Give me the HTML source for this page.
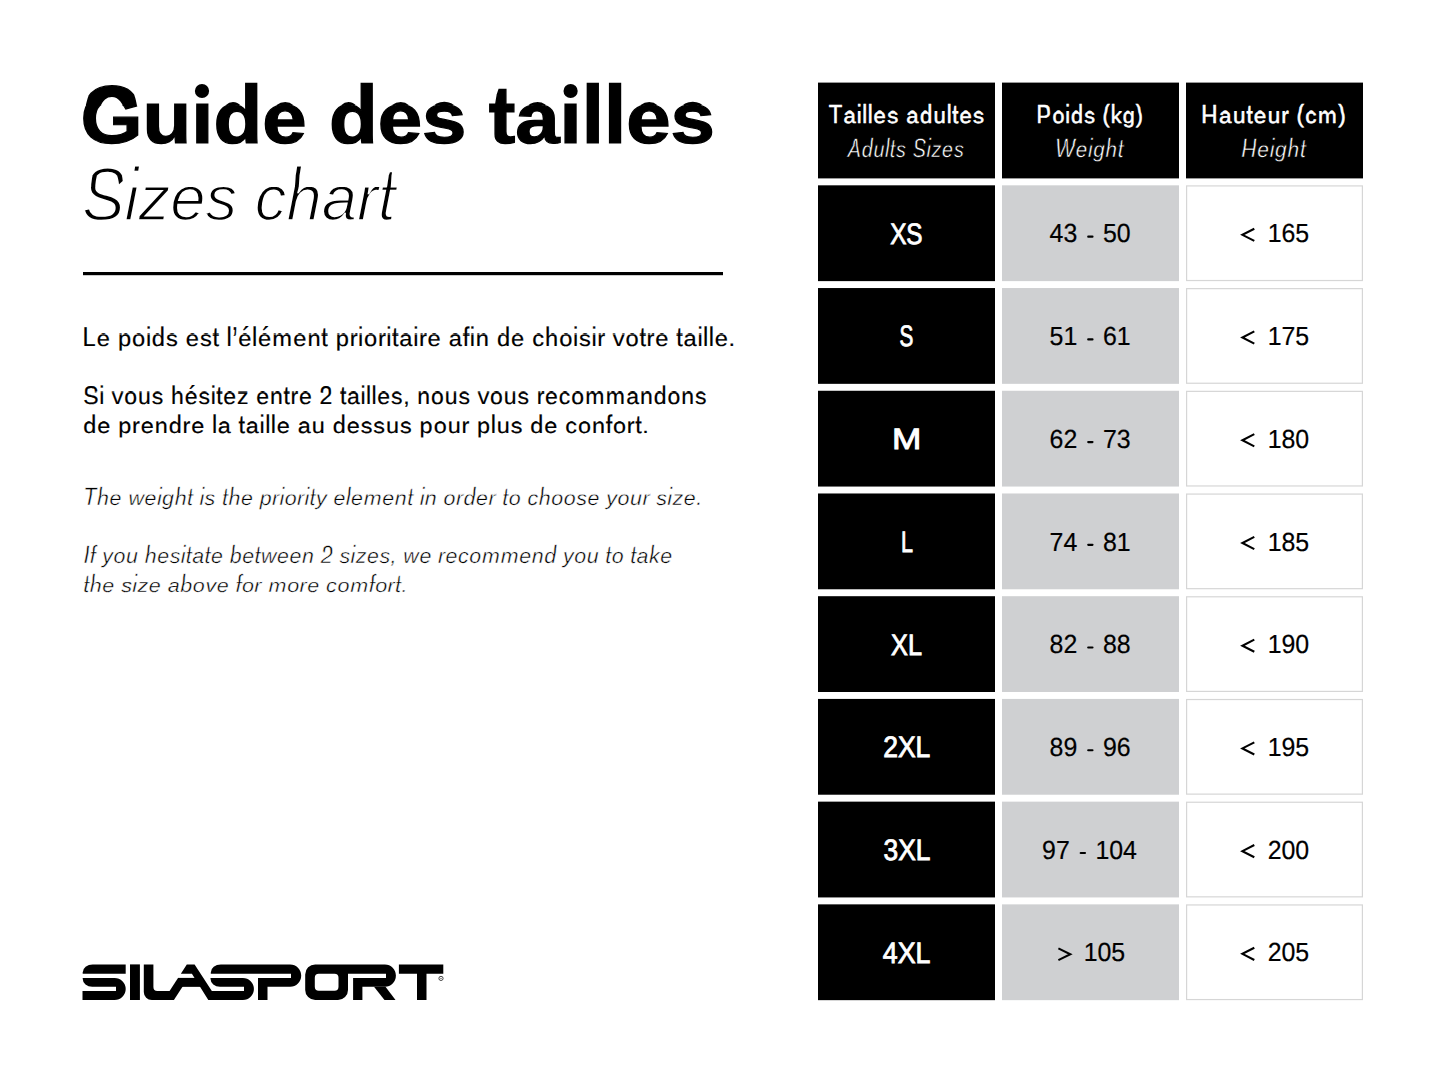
<!DOCTYPE html>
<html><head><meta charset="utf-8"><title>Guide des tailles</title>
<style>
html,body{margin:0;padding:0;background:#fff;width:1445px;height:1084px;overflow:hidden}
svg{position:absolute;left:0;top:0;display:block}
text{font-family:"Liberation Sans",sans-serif;white-space:pre;text-rendering:geometricPrecision}
</style></head><body>
<svg width="1445" height="1084" viewBox="0 0 1445 1084">
<defs><clipPath id="ca_title"><rect x="0" y="105.00" width="1445" height="83.6"/></clipPath>
<clipPath id="cm_title"><rect x="0" y="95.00" width="1445" height="10.00"/></clipPath>
<clipPath id="ct_title"><rect x="0" y="11.40" width="1445" height="83.60"/></clipPath>
<clipPath id="ca_sizes"><rect x="0" y="187.00" width="1445" height="75.3"/></clipPath>
<clipPath id="cm_sizes"><rect x="0" y="176.00" width="1445" height="11.00"/></clipPath>
<clipPath id="ct_sizes"><rect x="0" y="100.70" width="1445" height="75.30"/></clipPath>
<clipPath id="ca_p1"><rect x="0" y="334.00" width="1445" height="25.7"/></clipPath>
<clipPath id="cm_p1"><rect x="0" y="330.00" width="1445" height="4.00"/></clipPath>
<clipPath id="ct_p1"><rect x="0" y="304.30" width="1445" height="25.70"/></clipPath>
<clipPath id="ca_p2a"><rect x="0" y="392.00" width="1445" height="25.7"/></clipPath>
<clipPath id="cm_p2a"><rect x="0" y="389.00" width="1445" height="3.00"/></clipPath>
<clipPath id="ct_p2a"><rect x="0" y="363.30" width="1445" height="25.70"/></clipPath>
<clipPath id="ca_p2b"><rect x="0" y="422.00" width="1445" height="25.7"/></clipPath>
<clipPath id="cm_p2b"><rect x="0" y="418.00" width="1445" height="4.00"/></clipPath>
<clipPath id="ct_p2b"><rect x="0" y="392.30" width="1445" height="25.70"/></clipPath>
<clipPath id="ca_i1"><rect x="0" y="494.00" width="1445" height="25.1"/></clipPath>
<clipPath id="cm_i1"><rect x="0" y="490.00" width="1445" height="4.00"/></clipPath>
<clipPath id="ct_i1"><rect x="0" y="464.90" width="1445" height="25.10"/></clipPath>
<clipPath id="ca_i2"><rect x="0" y="552.00" width="1445" height="25.1"/></clipPath>
<clipPath id="cm_i2"><rect x="0" y="548.00" width="1445" height="4.00"/></clipPath>
<clipPath id="ct_i2"><rect x="0" y="522.90" width="1445" height="25.10"/></clipPath>
<clipPath id="ca_i3"><rect x="0" y="582.00" width="1445" height="25.1"/></clipPath>
<clipPath id="cm_i3"><rect x="0" y="577.00" width="1445" height="5.00"/></clipPath>
<clipPath id="ct_i3"><rect x="0" y="551.90" width="1445" height="25.10"/></clipPath>
<clipPath id="ca_h1a"><rect x="0" y="112.00" width="1445" height="26.2"/></clipPath>
<clipPath id="cm_h1a"><rect x="0" y="108.00" width="1445" height="4.00"/></clipPath>
<clipPath id="ct_h1a"><rect x="0" y="81.80" width="1445" height="26.20"/></clipPath>
<clipPath id="ca_h1b"><rect x="0" y="145.00" width="1445" height="26.5"/></clipPath>
<clipPath id="cm_h1b"><rect x="0" y="141.00" width="1445" height="4.00"/></clipPath>
<clipPath id="ct_h1b"><rect x="0" y="114.50" width="1445" height="26.50"/></clipPath>
<clipPath id="ca_h2a"><rect x="0" y="112.00" width="1445" height="26.2"/></clipPath>
<clipPath id="cm_h2a"><rect x="0" y="108.00" width="1445" height="4.00"/></clipPath>
<clipPath id="ct_h2a"><rect x="0" y="81.80" width="1445" height="26.20"/></clipPath>
<clipPath id="ca_h2b"><rect x="0" y="145.00" width="1445" height="26.5"/></clipPath>
<clipPath id="cm_h2b"><rect x="0" y="141.00" width="1445" height="4.00"/></clipPath>
<clipPath id="ct_h2b"><rect x="0" y="114.50" width="1445" height="26.50"/></clipPath>
<clipPath id="ca_h3a"><rect x="0" y="112.00" width="1445" height="26.2"/></clipPath>
<clipPath id="cm_h3a"><rect x="0" y="108.00" width="1445" height="4.00"/></clipPath>
<clipPath id="ct_h3a"><rect x="0" y="81.80" width="1445" height="26.20"/></clipPath>
<clipPath id="ca_h3b"><rect x="0" y="145.00" width="1445" height="26.5"/></clipPath>
<clipPath id="cm_h3b"><rect x="0" y="141.00" width="1445" height="4.00"/></clipPath>
<clipPath id="ct_h3b"><rect x="0" y="114.50" width="1445" height="26.50"/></clipPath></defs>
<rect x="0" y="0" width="1445" height="1084" fill="#fff"/>
<rect x="83" y="272" width="640" height="3.2" fill="#000"/>
<rect x="818" y="82.60" width="177" height="95.8" fill="#000"/>
<rect x="1002" y="82.60" width="177" height="95.8" fill="#000"/>
<rect x="1186" y="82.60" width="177" height="95.8" fill="#000"/>
<rect x="818" y="185.32" width="177" height="95.8" fill="#000"/>
<rect x="1002" y="185.32" width="177" height="95.8" fill="#cfd0d2"/>
<rect x="1186.6" y="185.92" width="175.8" height="94.6" fill="#fff" stroke="#d6d6d6" stroke-width="1.2"/>
<rect x="818" y="288.04" width="177" height="95.8" fill="#000"/>
<rect x="1002" y="288.04" width="177" height="95.8" fill="#cfd0d2"/>
<rect x="1186.6" y="288.64" width="175.8" height="94.6" fill="#fff" stroke="#d6d6d6" stroke-width="1.2"/>
<rect x="818" y="390.76" width="177" height="95.8" fill="#000"/>
<rect x="1002" y="390.76" width="177" height="95.8" fill="#cfd0d2"/>
<rect x="1186.6" y="391.36" width="175.8" height="94.6" fill="#fff" stroke="#d6d6d6" stroke-width="1.2"/>
<rect x="818" y="493.48" width="177" height="95.8" fill="#000"/>
<rect x="1002" y="493.48" width="177" height="95.8" fill="#cfd0d2"/>
<rect x="1186.6" y="494.08" width="175.8" height="94.6" fill="#fff" stroke="#d6d6d6" stroke-width="1.2"/>
<rect x="818" y="596.20" width="177" height="95.8" fill="#000"/>
<rect x="1002" y="596.20" width="177" height="95.8" fill="#cfd0d2"/>
<rect x="1186.6" y="596.80" width="175.8" height="94.6" fill="#fff" stroke="#d6d6d6" stroke-width="1.2"/>
<rect x="818" y="698.92" width="177" height="95.8" fill="#000"/>
<rect x="1002" y="698.92" width="177" height="95.8" fill="#cfd0d2"/>
<rect x="1186.6" y="699.52" width="175.8" height="94.6" fill="#fff" stroke="#d6d6d6" stroke-width="1.2"/>
<rect x="818" y="801.64" width="177" height="95.8" fill="#000"/>
<rect x="1002" y="801.64" width="177" height="95.8" fill="#cfd0d2"/>
<rect x="1186.6" y="802.24" width="175.8" height="94.6" fill="#fff" stroke="#d6d6d6" stroke-width="1.2"/>
<rect x="818" y="904.36" width="177" height="95.8" fill="#000"/>
<rect x="1002" y="904.36" width="177" height="95.8" fill="#cfd0d2"/>
<rect x="1186.6" y="904.96" width="175.8" height="94.6" fill="#fff" stroke="#d6d6d6" stroke-width="1.2"/>
<line x1="1088.20" y1="236.67" x2="1092.50" y2="236.67" stroke="#000" stroke-width="2.1" stroke-linecap="round"/>
<polyline points="1254.3,228.72 1242.4,234.82 1254.3,240.92" fill="none" stroke="#000" stroke-width="2.1" stroke-linejoin="miter"/>
<line x1="1088.20" y1="339.39" x2="1092.50" y2="339.39" stroke="#000" stroke-width="2.1" stroke-linecap="round"/>
<polyline points="1254.3,331.44 1242.4,337.54 1254.3,343.64" fill="none" stroke="#000" stroke-width="2.1" stroke-linejoin="miter"/>
<line x1="1088.20" y1="442.11" x2="1092.50" y2="442.11" stroke="#000" stroke-width="2.1" stroke-linecap="round"/>
<polyline points="1254.3,434.16 1242.4,440.26 1254.3,446.36" fill="none" stroke="#000" stroke-width="2.1" stroke-linejoin="miter"/>
<line x1="1088.20" y1="544.83" x2="1092.50" y2="544.83" stroke="#000" stroke-width="2.1" stroke-linecap="round"/>
<polyline points="1254.3,536.88 1242.4,542.98 1254.3,549.08" fill="none" stroke="#000" stroke-width="2.1" stroke-linejoin="miter"/>
<line x1="1088.20" y1="647.55" x2="1092.50" y2="647.55" stroke="#000" stroke-width="2.1" stroke-linecap="round"/>
<polyline points="1254.3,639.60 1242.4,645.70 1254.3,651.80" fill="none" stroke="#000" stroke-width="2.1" stroke-linejoin="miter"/>
<line x1="1088.20" y1="750.27" x2="1092.50" y2="750.27" stroke="#000" stroke-width="2.1" stroke-linecap="round"/>
<polyline points="1254.3,742.32 1242.4,748.42 1254.3,754.52" fill="none" stroke="#000" stroke-width="2.1" stroke-linejoin="miter"/>
<line x1="1080.70" y1="852.99" x2="1085.00" y2="852.99" stroke="#000" stroke-width="2.1" stroke-linecap="round"/>
<polyline points="1254.3,845.04 1242.4,851.14 1254.3,857.24" fill="none" stroke="#000" stroke-width="2.1" stroke-linejoin="miter"/>
<polyline points="1058.4,948.36 1070.3,954.26 1058.4,960.16" fill="none" stroke="#000" stroke-width="2.1" stroke-linejoin="miter"/>
<polyline points="1254.3,947.76 1242.4,953.86 1254.3,959.96" fill="none" stroke="#000" stroke-width="2.1" stroke-linejoin="miter"/>
<g clip-path="url(#ca_title)"><text transform="matrix(0.9549,0,0,0.8518,0,142.600)" x="84.33 149.35 200.42 223.65 274.71 321.21 344.43 395.50 441.99 488.49 511.71 539.55 586.05 609.28 632.50 655.73 702.22" y="0" font-size="83.6" font-weight="bold" font-style="normal" fill="#000" stroke="#000" stroke-width="1.4">Guide des tailles</text></g>
<g clip-path="url(#cm_title)"><text transform="matrix(0.9549,0,0,1.9936,0,193.000)" x="84.33 149.35 200.42 223.65 274.71 321.21 344.43 395.50 441.99 488.49 511.71 539.55 586.05 609.28 632.50 655.73 702.22" y="0" font-size="83.6" font-weight="bold" font-style="normal" fill="#000" stroke="#000" stroke-width="1.4">Guide des tailles</text></g>
<g clip-path="url(#ct_title)"><text transform="matrix(0.9549,0,0,1,0,144.157)" x="84.33 149.35 200.42 223.65 274.71 321.21 344.43 395.50 441.99 488.49 511.71 539.55 586.05 609.28 632.50 655.73 702.22" y="0" font-size="83.6" font-weight="bold" font-style="normal" fill="#000" stroke="#000" stroke-width="1.4">Guide des tailles</text></g>
<g clip-path="url(#ca_sizes)"><text transform="matrix(0.8414,0,0,0.8401,0,220.400)" x="97.70 147.92 164.65 202.30 244.18 281.83 302.75 340.40 382.28 424.16 449.23" y="0" font-size="75.3" font-weight="normal" font-style="italic" fill="#000" stroke="#fff" stroke-width="2.0">Sizes chart</text></g>
<g clip-path="url(#cm_sizes)"><text transform="matrix(0.8414,0,0,2.4347,0,283.800)" x="97.70 147.92 164.65 202.30 244.18 281.83 302.75 340.40 382.28 424.16 449.23" y="0" font-size="75.3" font-weight="normal" font-style="italic" fill="#000" stroke="#fff" stroke-width="2.0">Sizes chart</text></g>
<g clip-path="url(#ct_sizes)"><text transform="matrix(0.8414,0,0,1,0,220.276)" x="97.70 147.92 164.65 202.30 244.18 281.83 302.75 340.40 382.28 424.16 449.23" y="0" font-size="75.3" font-weight="normal" font-style="italic" fill="#000" stroke="#fff" stroke-width="2.0">Sizes chart</text></g>
<g clip-path="url(#ca_p1)"><text transform="matrix(0.9207,0,0,0.8549,0,345.600)" x="89.67 105.04 120.14 128.09 143.46 158.50 164.96 180.28 193.88 201.83 217.14 230.75 238.42 246.05 252.19 258.65 273.69 280.16 295.79 318.55 333.91 349.01 356.69 364.64 379.79 388.89 395.35 410.50 419.60 425.79 433.74 448.78 455.03 464.45 479.55 487.50 502.60 510.22 516.68 531.78 539.73 555.10 570.20 578.09 591.96 607.33 622.38 628.78 642.33 648.58 657.73 665.62 679.49 694.59 702.32 711.74 726.84 734.52 742.47 757.51 763.65 769.79 776.25 791.35" y="0" font-size="25.7" font-weight="normal" font-style="normal" fill="#000" stroke="#000" stroke-width="0.2">Le poids est l’élément prioritaire afin de choisir votre taille.</text></g>
<g clip-path="url(#cm_p1)"><text transform="matrix(0.9207,0,0,2.5940,0,369.200)" x="89.67 105.04 120.14 128.09 143.46 158.50 164.96 180.28 193.88 201.83 217.14 230.75 238.42 246.05 252.19 258.65 273.69 280.16 295.79 318.55 333.91 349.01 356.69 364.64 379.79 388.89 395.35 410.50 419.60 425.79 433.74 448.78 455.03 464.45 479.55 487.50 502.60 510.22 516.68 531.78 539.73 555.10 570.20 578.09 591.96 607.33 622.38 628.78 642.33 648.58 657.73 665.62 679.49 694.59 702.32 711.74 726.84 734.52 742.47 757.51 763.65 769.79 776.25 791.35" y="0" font-size="25.7" font-weight="normal" font-style="normal" fill="#000" stroke="#000" stroke-width="0.2">Le poids est l’élément prioritaire afin de choisir votre taille.</text></g>
<g clip-path="url(#ct_p1)"><text transform="matrix(0.9207,0,0,1,0,345.112)" x="89.67 105.04 120.14 128.09 143.46 158.50 164.96 180.28 193.88 201.83 217.14 230.75 238.42 246.05 252.19 258.65 273.69 280.16 295.79 318.55 333.91 349.01 356.69 364.64 379.79 388.89 395.35 410.50 419.60 425.79 433.74 448.78 455.03 464.45 479.55 487.50 502.60 510.22 516.68 531.78 539.73 555.10 570.20 578.09 591.96 607.33 622.38 628.78 642.33 648.58 657.73 665.62 679.49 694.59 702.32 711.74 726.84 734.52 742.47 757.51 763.65 769.79 776.25 791.35" y="0" font-size="25.7" font-weight="normal" font-style="normal" fill="#000" stroke="#000" stroke-width="0.2">Le poids est l’élément prioritaire afin de choisir votre taille.</text></g>
<g clip-path="url(#ca_p2a)"><text transform="matrix(0.8952,0,0,0.8622,0,403.700)" x="92.89 110.89 117.08 124.98 138.85 154.22 169.53 183.13 191.08 206.45 221.76 235.31 241.51 249.45 264.77 278.37 286.32 301.69 316.79 324.52 333.94 349.04 356.98 372.08 379.76 387.71 402.75 408.89 415.03 421.49 436.81 450.41 458.09 466.04 481.40 496.77 512.09 525.69 533.58 547.45 562.82 578.14 591.74 599.47 608.89 624.20 638.08 653.71 676.73 699.48 714.85 730.22 745.59 760.96 776.27" y="0" font-size="25.7" font-weight="normal" font-style="normal" fill="#000" stroke="#000" stroke-width="0.2">Si vous hésitez entre 2 tailles, nous vous recommandons</text></g>
<g clip-path="url(#cm_p2a)"><text transform="matrix(0.8952,0,0,1.9455,0,418.400)" x="92.89 110.89 117.08 124.98 138.85 154.22 169.53 183.13 191.08 206.45 221.76 235.31 241.51 249.45 264.77 278.37 286.32 301.69 316.79 324.52 333.94 349.04 356.98 372.08 379.76 387.71 402.75 408.89 415.03 421.49 436.81 450.41 458.09 466.04 481.40 496.77 512.09 525.69 533.58 547.45 562.82 578.14 591.74 599.47 608.89 624.20 638.08 653.71 676.73 699.48 714.85 730.22 745.59 760.96 776.27" y="0" font-size="25.7" font-weight="normal" font-style="normal" fill="#000" stroke="#000" stroke-width="0.2">Si vous hésitez entre 2 tailles, nous vous recommandons</text></g>
<g clip-path="url(#ct_p2a)"><text transform="matrix(0.8952,0,0,1,0,404.112)" x="92.89 110.89 117.08 124.98 138.85 154.22 169.53 183.13 191.08 206.45 221.76 235.31 241.51 249.45 264.77 278.37 286.32 301.69 316.79 324.52 333.94 349.04 356.98 372.08 379.76 387.71 402.75 408.89 415.03 421.49 436.81 450.41 458.09 466.04 481.40 496.77 512.09 525.69 533.58 547.45 562.82 578.14 591.74 599.47 608.89 624.20 638.08 653.71 676.73 699.48 714.85 730.22 745.59 760.96 776.27" y="0" font-size="25.7" font-weight="normal" font-style="normal" fill="#000" stroke="#000" stroke-width="0.2">Si vous hésitez entre 2 tailles, nous vous recommandons</text></g>
<g clip-path="url(#ca_p2b)"><text transform="matrix(0.9124,0,0,0.8106,0,433.000)" x="91.20 106.57 121.67 129.62 144.77 154.19 169.56 184.93 200.08 209.50 224.60 232.22 238.69 253.79 261.46 269.41 284.46 290.60 296.74 303.20 318.30 326.25 341.61 356.71 364.66 380.03 395.34 409.16 423.03 438.35 451.95 459.90 475.27 490.64 505.79 514.94 522.88 537.93 544.39 559.71 573.31 581.26 596.63 611.73 619.62 633.49 648.86 663.96 671.91 687.06 696.21 703.88" y="0" font-size="25.7" font-weight="normal" font-style="normal" fill="#000" stroke="#000" stroke-width="0.2">de prendre la taille au dessus pour plus de confort.</text></g>
<g clip-path="url(#cm_p2b)"><text transform="matrix(0.9124,0,0,2.5940,0,457.200)" x="91.20 106.57 121.67 129.62 144.77 154.19 169.56 184.93 200.08 209.50 224.60 232.22 238.69 253.79 261.46 269.41 284.46 290.60 296.74 303.20 318.30 326.25 341.61 356.71 364.66 380.03 395.34 409.16 423.03 438.35 451.95 459.90 475.27 490.64 505.79 514.94 522.88 537.93 544.39 559.71 573.31 581.26 596.63 611.73 619.62 633.49 648.86 663.96 671.91 687.06 696.21 703.88" y="0" font-size="25.7" font-weight="normal" font-style="normal" fill="#000" stroke="#000" stroke-width="0.2">de prendre la taille au dessus pour plus de confort.</text></g>
<g clip-path="url(#ct_p2b)"><text transform="matrix(0.9124,0,0,1,0,433.112)" x="91.20 106.57 121.67 129.62 144.77 154.19 169.56 184.93 200.08 209.50 224.60 232.22 238.69 253.79 261.46 269.41 284.46 290.60 296.74 303.20 318.30 326.25 341.61 356.71 364.66 380.03 395.34 409.16 423.03 438.35 451.95 459.90 475.27 490.64 505.79 514.94 522.88 537.93 544.39 559.71 573.31 581.26 596.63 611.73 619.62 633.49 648.86 663.96 671.91 687.06 696.21 703.88" y="0" font-size="25.7" font-weight="normal" font-style="normal" fill="#000" stroke="#000" stroke-width="0.2">de prendre la taille au dessus pour plus de confort.</text></g>
<g clip-path="url(#ca_i1)"><text transform="matrix(0.8519,0,0,0.7998,0,504.600)" x="97.82 113.92 128.62 143.13 150.76 169.73 184.21 190.30 204.99 219.50 226.84 234.14 240.20 253.26 260.60 268.13 282.82 297.33 304.86 319.40 328.13 334.22 348.77 357.49 363.40 370.88 383.95 391.47 405.95 412.04 426.91 448.74 463.43 477.94 485.28 492.59 498.68 513.19 520.71 535.26 544.21 558.90 573.45 582.21 589.55 597.07 611.58 619.07 632.32 647.01 661.71 676.37 689.61 704.12 711.61 724.86 739.55 754.10 762.86 770.35 783.38 789.43 802.68 817.19" y="0" font-size="25.1" font-weight="normal" font-style="italic" fill="#000" stroke="#fff" stroke-width="0.5">The weight is the priority element in order to choose your size.</text></g>
<g clip-path="url(#cm_i1)"><text transform="matrix(0.8519,0,0,2.6560,0,529.200)" x="97.82 113.92 128.62 143.13 150.76 169.73 184.21 190.30 204.99 219.50 226.84 234.14 240.20 253.26 260.60 268.13 282.82 297.33 304.86 319.40 328.13 334.22 348.77 357.49 363.40 370.88 383.95 391.47 405.95 412.04 426.91 448.74 463.43 477.94 485.28 492.59 498.68 513.19 520.71 535.26 544.21 558.90 573.45 582.21 589.55 597.07 611.58 619.07 632.32 647.01 661.71 676.37 689.61 704.12 711.61 724.86 739.55 754.10 762.86 770.35 783.38 789.43 802.68 817.19" y="0" font-size="25.1" font-weight="normal" font-style="italic" fill="#000" stroke="#fff" stroke-width="0.5">The weight is the priority element in order to choose your size.</text></g>
<g clip-path="url(#ct_i1)"><text transform="matrix(0.8519,0,0,1,0,504.759)" x="97.82 113.92 128.62 143.13 150.76 169.73 184.21 190.30 204.99 219.50 226.84 234.14 240.20 253.26 260.60 268.13 282.82 297.33 304.86 319.40 328.13 334.22 348.77 357.49 363.40 370.88 383.95 391.47 405.95 412.04 426.91 448.74 463.43 477.94 485.28 492.59 498.68 513.19 520.71 535.26 544.21 558.90 573.45 582.21 589.55 597.07 611.58 619.07 632.32 647.01 661.71 676.37 689.61 704.12 711.61 724.86 739.55 754.10 762.86 770.35 783.38 789.43 802.68 817.19" y="0" font-size="25.1" font-weight="normal" font-style="italic" fill="#000" stroke="#fff" stroke-width="0.5">The weight is the priority element in order to choose your size.</text></g>
<g clip-path="url(#ca_i2)"><text transform="matrix(0.8501,0,0,0.8225,0,562.900)" x="98.11 105.45 112.79 120.28 133.53 148.22 162.73 170.25 184.95 199.61 212.63 218.54 226.06 240.57 248.10 262.61 270.13 284.83 299.34 306.97 325.94 340.64 355.33 369.84 377.37 391.88 399.36 412.39 418.44 431.69 446.35 459.41 466.75 474.39 493.36 507.87 515.25 524.19 538.85 552.10 566.97 588.98 610.81 625.50 640.20 654.71 662.19 675.44 690.14 704.65 711.99 719.51 734.02 741.36 748.89 763.54 776.79" y="0" font-size="25.1" font-weight="normal" font-style="italic" fill="#000" stroke="#fff" stroke-width="0.5">If you hesitate between 2 sizes, we recommend you to take</text></g>
<g clip-path="url(#cm_i2)"><text transform="matrix(0.8501,0,0,2.6560,0,587.200)" x="98.11 105.45 112.79 120.28 133.53 148.22 162.73 170.25 184.95 199.61 212.63 218.54 226.06 240.57 248.10 262.61 270.13 284.83 299.34 306.97 325.94 340.64 355.33 369.84 377.37 391.88 399.36 412.39 418.44 431.69 446.35 459.41 466.75 474.39 493.36 507.87 515.25 524.19 538.85 552.10 566.97 588.98 610.81 625.50 640.20 654.71 662.19 675.44 690.14 704.65 711.99 719.51 734.02 741.36 748.89 763.54 776.79" y="0" font-size="25.1" font-weight="normal" font-style="italic" fill="#000" stroke="#fff" stroke-width="0.5">If you hesitate between 2 sizes, we recommend you to take</text></g>
<g clip-path="url(#ct_i2)"><text transform="matrix(0.8501,0,0,1,0,562.759)" x="98.11 105.45 112.79 120.28 133.53 148.22 162.73 170.25 184.95 199.61 212.63 218.54 226.06 240.57 248.10 262.61 270.13 284.83 299.34 306.97 325.94 340.64 355.33 369.84 377.37 391.88 399.36 412.39 418.44 431.69 446.35 459.41 466.75 474.39 493.36 507.87 515.25 524.19 538.85 552.10 566.97 588.98 610.81 625.50 640.20 654.71 662.19 675.44 690.14 704.65 711.99 719.51 734.02 741.36 748.89 763.54 776.79" y="0" font-size="25.1" font-weight="normal" font-style="italic" fill="#000" stroke="#fff" stroke-width="0.5">If you hesitate between 2 sizes, we recommend you to take</text></g>
<g clip-path="url(#ca_i3)"><text transform="matrix(0.8563,0,0,0.7546,0,592.000)" x="97.25 104.77 119.47 133.98 141.46 154.49 160.54 173.79 188.30 195.83 210.52 225.21 239.87 253.12 267.63 274.97 282.49 297.04 305.80 313.51 335.34 349.88 358.83 373.34 380.83 394.07 408.95 430.59 438.12 452.66 461.43 468.77" y="0" font-size="25.1" font-weight="normal" font-style="italic" fill="#000" stroke="#fff" stroke-width="0.5">the size above for more comfort.</text></g>
<g clip-path="url(#cm_i3)"><text transform="matrix(0.8563,0,0,3.3201,0,626.000)" x="97.25 104.77 119.47 133.98 141.46 154.49 160.54 173.79 188.30 195.83 210.52 225.21 239.87 253.12 267.63 274.97 282.49 297.04 305.80 313.51 335.34 349.88 358.83 373.34 380.83 394.07 408.95 430.59 438.12 452.66 461.43 468.77" y="0" font-size="25.1" font-weight="normal" font-style="italic" fill="#000" stroke="#fff" stroke-width="0.5">the size above for more comfort.</text></g>
<g clip-path="url(#ct_i3)"><text transform="matrix(0.8563,0,0,1,0,591.759)" x="97.25 104.77 119.47 133.98 141.46 154.49 160.54 173.79 188.30 195.83 210.52 225.21 239.87 253.12 267.63 274.97 282.49 297.04 305.80 313.51 335.34 349.88 358.83 373.34 380.83 394.07 408.95 430.59 438.12 452.66 461.43 468.77" y="0" font-size="25.1" font-weight="normal" font-style="italic" fill="#000" stroke="#fff" stroke-width="0.5">the size above for more comfort.</text></g>
<g clip-path="url(#ca_h1a)"><text transform="matrix(0.8424,0,0,0.7952,0,123.000)" x="983.74 1001.44 1017.14 1023.61 1030.08 1037.03 1053.14 1067.37 1075.87 1092.06 1108.25 1123.95 1130.50 1138.99 1155.10" y="0" font-size="26.2" font-weight="normal" font-style="normal" fill="#fff" stroke="#fff" stroke-width="0.6">Tailles adultes</text></g>
<g clip-path="url(#cm_h1a)"><text transform="matrix(0.8424,0,0,2.5445,0,147.200)" x="983.74 1001.44 1017.14 1023.61 1030.08 1037.03 1053.14 1067.37 1075.87 1092.06 1108.25 1123.95 1130.50 1138.99 1155.10" y="0" font-size="26.2" font-weight="normal" font-style="normal" fill="#fff" stroke="#fff" stroke-width="0.6">Tailles adultes</text></g>
<g clip-path="url(#ct_h1a)"><text transform="matrix(0.8424,0,0,1,0,123.406)" x="983.74 1001.44 1017.14 1023.61 1030.08 1037.03 1053.14 1067.37 1075.87 1092.06 1108.25 1123.95 1130.50 1138.99 1155.10" y="0" font-size="26.2" font-weight="normal" font-style="normal" fill="#fff" stroke="#fff" stroke-width="0.6">Tailles adultes</text></g>
<g clip-path="url(#ca_h1b)"><text transform="matrix(0.7384,0,0,0.8290,0,156.600)" x="1147.94 1167.02 1183.04 1198.68 1205.14 1213.40 1227.54 1236.00 1254.70 1261.42 1275.88 1291.84" y="0" font-size="26.5" font-weight="normal" font-style="italic" fill="#fff" stroke="#000" stroke-width="0.5">Adults Sizes</text></g>
<g clip-path="url(#cm_h1b)"><text transform="matrix(0.7384,0,0,2.5157,0,180.200)" x="1147.94 1167.02 1183.04 1198.68 1205.14 1213.40 1227.54 1236.00 1254.70 1261.42 1275.88 1291.84" y="0" font-size="26.5" font-weight="normal" font-style="italic" fill="#fff" stroke="#000" stroke-width="0.5">Adults Sizes</text></g>
<g clip-path="url(#ct_h1b)"><text transform="matrix(0.7384,0,0,1,0,156.582)" x="1147.94 1167.02 1183.04 1198.68 1205.14 1213.40 1227.54 1236.00 1254.70 1261.42 1275.88 1291.84" y="0" font-size="26.5" font-weight="normal" font-style="italic" fill="#fff" stroke="#000" stroke-width="0.5">Adults Sizes</text></g>
<g clip-path="url(#ca_h2a)"><text transform="matrix(0.8211,0,0,0.7952,0,123.000)" x="1262.44 1281.69 1297.40 1304.35 1320.46 1334.69 1342.86 1352.80 1367.43 1383.30" y="0" font-size="26.2" font-weight="normal" font-style="normal" fill="#fff" stroke="#fff" stroke-width="0.6">Poids (kg)</text></g>
<g clip-path="url(#cm_h2a)"><text transform="matrix(0.8211,0,0,2.5445,0,147.200)" x="1262.44 1281.69 1297.40 1304.35 1320.46 1334.69 1342.86 1352.80 1367.43 1383.30" y="0" font-size="26.2" font-weight="normal" font-style="normal" fill="#fff" stroke="#fff" stroke-width="0.6">Poids (kg)</text></g>
<g clip-path="url(#ct_h2a)"><text transform="matrix(0.8211,0,0,1,0,123.406)" x="1262.44 1281.69 1297.40 1304.35 1320.46 1334.69 1342.86 1352.80 1367.43 1383.30" y="0" font-size="26.2" font-weight="normal" font-style="normal" fill="#fff" stroke="#fff" stroke-width="0.6">Poids (kg)</text></g>
<g clip-path="url(#ca_h2b)"><text transform="matrix(0.7747,0,0,0.8290,0,156.600)" x="1361.99 1388.73 1404.36 1411.15 1427.17 1442.87" y="0" font-size="26.5" font-weight="normal" font-style="italic" fill="#fff" stroke="#000" stroke-width="0.5">Weight</text></g>
<g clip-path="url(#cm_h2b)"><text transform="matrix(0.7747,0,0,2.5157,0,180.200)" x="1361.99 1388.73 1404.36 1411.15 1427.17 1442.87" y="0" font-size="26.5" font-weight="normal" font-style="italic" fill="#fff" stroke="#000" stroke-width="0.5">Weight</text></g>
<g clip-path="url(#ct_h2b)"><text transform="matrix(0.7747,0,0,1,0,156.582)" x="1361.99 1388.73 1404.36 1411.15 1427.17 1442.87" y="0" font-size="26.5" font-weight="normal" font-style="italic" fill="#fff" stroke="#000" stroke-width="0.5">Weight</text></g>
<g clip-path="url(#ca_h3a)"><text transform="matrix(0.8588,0,0,0.7952,0,123.000)" x="1398.70 1419.48 1435.67 1451.45 1459.95 1476.14 1492.00 1501.62 1509.78 1519.72 1534.76 1558.28" y="0" font-size="26.2" font-weight="normal" font-style="normal" fill="#fff" stroke="#fff" stroke-width="0.6">Hauteur (cm)</text></g>
<g clip-path="url(#cm_h3a)"><text transform="matrix(0.8588,0,0,2.5445,0,147.200)" x="1398.70 1419.48 1435.67 1451.45 1459.95 1476.14 1492.00 1501.62 1509.78 1519.72 1534.76 1558.28" y="0" font-size="26.2" font-weight="normal" font-style="normal" fill="#fff" stroke="#fff" stroke-width="0.6">Hauteur (cm)</text></g>
<g clip-path="url(#ct_h3a)"><text transform="matrix(0.8588,0,0,1,0,123.406)" x="1398.70 1419.48 1435.67 1451.45 1459.95 1476.14 1492.00 1501.62 1509.78 1519.72 1534.76 1558.28" y="0" font-size="26.2" font-weight="normal" font-style="normal" fill="#fff" stroke="#fff" stroke-width="0.6">Hauteur (cm)</text></g>
<g clip-path="url(#ca_h3b)"><text transform="matrix(0.7870,0,0,0.8290,0,156.600)" x="1577.07 1597.68 1613.31 1620.10 1636.12 1651.82" y="0" font-size="26.5" font-weight="normal" font-style="italic" fill="#fff" stroke="#000" stroke-width="0.5">Height</text></g>
<g clip-path="url(#cm_h3b)"><text transform="matrix(0.7870,0,0,2.5157,0,180.200)" x="1577.07 1597.68 1613.31 1620.10 1636.12 1651.82" y="0" font-size="26.5" font-weight="normal" font-style="italic" fill="#fff" stroke="#000" stroke-width="0.5">Height</text></g>
<g clip-path="url(#ct_h3b)"><text transform="matrix(0.7870,0,0,1,0,156.582)" x="1577.07 1597.68 1613.31 1620.10 1636.12 1651.82" y="0" font-size="26.5" font-weight="normal" font-style="italic" fill="#fff" stroke="#000" stroke-width="0.5">Height</text></g>
<text x="890.13" y="243.62" font-size="29.6" font-weight="normal" font-style="normal" fill="#fff" stroke="#fff" stroke-width="0.9" textLength="32.44" lengthAdjust="spacingAndGlyphs">XS</text>
<text x="1077.30" y="242.37" text-anchor="end" font-size="26.2" font-weight="normal" font-style="normal" fill="#000" stroke="#000" stroke-width="0.2" textLength="27.68" lengthAdjust="spacingAndGlyphs">43</text>
<text x="1102.90" y="242.37" font-size="26.2" font-weight="normal" font-style="normal" fill="#000" stroke="#000" stroke-width="0.2" textLength="27.68" lengthAdjust="spacingAndGlyphs">50</text>
<text x="1309.20" y="242.37" text-anchor="end" font-size="26.2" font-weight="normal" font-style="normal" fill="#000" stroke="#000" stroke-width="0.2" textLength="41.52" lengthAdjust="spacingAndGlyphs">165</text>
<text x="899.55" y="346.34" font-size="29.6" font-weight="normal" font-style="normal" fill="#fff" stroke="#fff" stroke-width="0.9" textLength="13.82" lengthAdjust="spacingAndGlyphs">S</text>
<text x="1077.30" y="345.09" text-anchor="end" font-size="26.2" font-weight="normal" font-style="normal" fill="#000" stroke="#000" stroke-width="0.2" textLength="27.68" lengthAdjust="spacingAndGlyphs">51</text>
<text x="1102.90" y="345.09" font-size="26.2" font-weight="normal" font-style="normal" fill="#000" stroke="#000" stroke-width="0.2" textLength="27.68" lengthAdjust="spacingAndGlyphs">61</text>
<text x="1309.20" y="345.09" text-anchor="end" font-size="26.2" font-weight="normal" font-style="normal" fill="#000" stroke="#000" stroke-width="0.2" textLength="41.52" lengthAdjust="spacingAndGlyphs">175</text>
<text x="892.07" y="449.06" font-size="29.6" font-weight="normal" font-style="normal" fill="#fff" stroke="#fff" stroke-width="0.9" textLength="29.34" lengthAdjust="spacingAndGlyphs">M</text>
<text x="1077.30" y="447.81" text-anchor="end" font-size="26.2" font-weight="normal" font-style="normal" fill="#000" stroke="#000" stroke-width="0.2" textLength="27.68" lengthAdjust="spacingAndGlyphs">62</text>
<text x="1102.90" y="447.81" font-size="26.2" font-weight="normal" font-style="normal" fill="#000" stroke="#000" stroke-width="0.2" textLength="27.68" lengthAdjust="spacingAndGlyphs">73</text>
<text x="1309.20" y="447.81" text-anchor="end" font-size="26.2" font-weight="normal" font-style="normal" fill="#000" stroke="#000" stroke-width="0.2" textLength="41.52" lengthAdjust="spacingAndGlyphs">180</text>
<text x="900.99" y="551.78" font-size="29.6" font-weight="normal" font-style="normal" fill="#fff" stroke="#fff" stroke-width="0.9" textLength="12.00" lengthAdjust="spacingAndGlyphs">L</text>
<text x="1077.30" y="550.53" text-anchor="end" font-size="26.2" font-weight="normal" font-style="normal" fill="#000" stroke="#000" stroke-width="0.2" textLength="27.68" lengthAdjust="spacingAndGlyphs">74</text>
<text x="1102.90" y="550.53" font-size="26.2" font-weight="normal" font-style="normal" fill="#000" stroke="#000" stroke-width="0.2" textLength="27.68" lengthAdjust="spacingAndGlyphs">81</text>
<text x="1309.20" y="550.53" text-anchor="end" font-size="26.2" font-weight="normal" font-style="normal" fill="#000" stroke="#000" stroke-width="0.2" textLength="41.52" lengthAdjust="spacingAndGlyphs">185</text>
<text x="891.10" y="654.50" font-size="29.6" font-weight="normal" font-style="normal" fill="#fff" stroke="#fff" stroke-width="0.9" textLength="30.88" lengthAdjust="spacingAndGlyphs">XL</text>
<text x="1077.30" y="653.25" text-anchor="end" font-size="26.2" font-weight="normal" font-style="normal" fill="#000" stroke="#000" stroke-width="0.2" textLength="27.68" lengthAdjust="spacingAndGlyphs">82</text>
<text x="1102.90" y="653.25" font-size="26.2" font-weight="normal" font-style="normal" fill="#000" stroke="#000" stroke-width="0.2" textLength="27.68" lengthAdjust="spacingAndGlyphs">88</text>
<text x="1309.20" y="653.25" text-anchor="end" font-size="26.2" font-weight="normal" font-style="normal" fill="#000" stroke="#000" stroke-width="0.2" textLength="41.52" lengthAdjust="spacingAndGlyphs">190</text>
<text x="883.26" y="757.22" font-size="29.6" font-weight="normal" font-style="normal" fill="#fff" stroke="#fff" stroke-width="0.9" textLength="47.08" lengthAdjust="spacingAndGlyphs">2XL</text>
<text x="1077.30" y="755.97" text-anchor="end" font-size="26.2" font-weight="normal" font-style="normal" fill="#000" stroke="#000" stroke-width="0.2" textLength="27.68" lengthAdjust="spacingAndGlyphs">89</text>
<text x="1102.90" y="755.97" font-size="26.2" font-weight="normal" font-style="normal" fill="#000" stroke="#000" stroke-width="0.2" textLength="27.68" lengthAdjust="spacingAndGlyphs">96</text>
<text x="1309.20" y="755.97" text-anchor="end" font-size="26.2" font-weight="normal" font-style="normal" fill="#000" stroke="#000" stroke-width="0.2" textLength="41.52" lengthAdjust="spacingAndGlyphs">195</text>
<text x="883.56" y="859.94" font-size="29.6" font-weight="normal" font-style="normal" fill="#fff" stroke="#fff" stroke-width="0.9" textLength="46.77" lengthAdjust="spacingAndGlyphs">3XL</text>
<text x="1069.80" y="858.69" text-anchor="end" font-size="26.2" font-weight="normal" font-style="normal" fill="#000" stroke="#000" stroke-width="0.2" textLength="27.68" lengthAdjust="spacingAndGlyphs">97</text>
<text x="1095.40" y="858.69" font-size="26.2" font-weight="normal" font-style="normal" fill="#000" stroke="#000" stroke-width="0.2" textLength="41.52" lengthAdjust="spacingAndGlyphs">104</text>
<text x="1309.20" y="858.69" text-anchor="end" font-size="26.2" font-weight="normal" font-style="normal" fill="#000" stroke="#000" stroke-width="0.2" textLength="41.52" lengthAdjust="spacingAndGlyphs">200</text>
<text x="882.75" y="962.66" font-size="29.6" font-weight="normal" font-style="normal" fill="#fff" stroke="#fff" stroke-width="0.9" textLength="47.60" lengthAdjust="spacingAndGlyphs">4XL</text>
<text x="1083.70" y="961.41" font-size="26.2" font-weight="normal" font-style="normal" fill="#000" stroke="#000" stroke-width="0.2" textLength="41.52" lengthAdjust="spacingAndGlyphs">105</text>
<text x="1309.20" y="961.41" text-anchor="end" font-size="26.2" font-weight="normal" font-style="normal" fill="#000" stroke="#000" stroke-width="0.2" textLength="41.52" lengthAdjust="spacingAndGlyphs">205</text>
<rect x="195" y="82" width="14" height="11" fill="#fff"/><rect x="563" y="82" width="15" height="11" fill="#fff"/>
<circle cx="202" cy="91" r="7.1" fill="#000"/><circle cx="570.6" cy="91" r="7.1" fill="#000"/>
<g fill="#000">
<path d="M125.7 964.4 H92.7 A10 8 0 0 0 82.7 972.4 V973.7 H125.7 Z"/>
<path d="M82.7 977.9 H114.6 A11.1 11.05 0 0 1 114.6 1000 H82.5 V990.9 H116 V986.85 H92.2 A9.5 8 0 0 1 82.7 978.85 Z"/>
<rect x="130" y="964.4" width="9.9" height="35.6"/>
<path d="M143.8 964.4 H153.4 V986.9 A4 4 0 0 0 157.4 990.9 H172 V1000 H151.8 A8 8 0 0 1 143.8 992 Z"/>
<path d="M178.0 977.9 H188.2 L173.9 1000 H163.7 Z"/>
<rect x="178" y="977.9" width="24" height="8.95"/>
<path d="M186.8 964.4 H194.6 L217.7 1000 H208.3 L191.9 973.7 H180.85 Z"/>
<path d="M210.5 977.9 H242.85 A11.05 11.05 0 0 1 242.85 1000 H211 V990.9 H244 V986.85 H220 A9.5 8 0 0 1 210.5 978.85 Z"/>
<path d="M220.8 964.4 H290.15 A11.05 11.225 0 0 1 290.15 986.85 H267.5 V1000 H258 V977.9 H291 V973.7 H210.8 V972.4 A10 8 0 0 1 220.8 964.4 Z"/>
<path fill-rule="evenodd" d="M315.2 964.4 H384.9 A11 11.225 0 0 1 384.9 986.85 H362.4 V1000 H353.1 V977.9 H386 V973.7 H348 V990 A10 10 0 0 1 338 1000 H315.2 A10 10 0 0 1 305.2 990 V974.4 A10 10 0 0 1 315.2 964.4 Z M318.8 973.7 H334.5 A4 4 0 0 1 338.5 977.7 V986.7 A4 4 0 0 1 334.5 990.7 H318.8 A4 4 0 0 1 314.8 986.7 V977.7 A4 4 0 0 1 318.8 973.7 Z"/>
<path d="M374 986.85 H385.5 L395.5 1000 H384.5 Z"/>
<path d="M398.9 964.4 H443.3 V973.7 H426.5 V1000 H417 V973.7 H398.9 Z"/>
<circle cx="441" cy="978.4" r="2.1" fill="none" stroke="#333" stroke-width="0.9"/><circle cx="441" cy="978.4" r="0.7" fill="#555"/>
</g>

</svg>
</body></html>
